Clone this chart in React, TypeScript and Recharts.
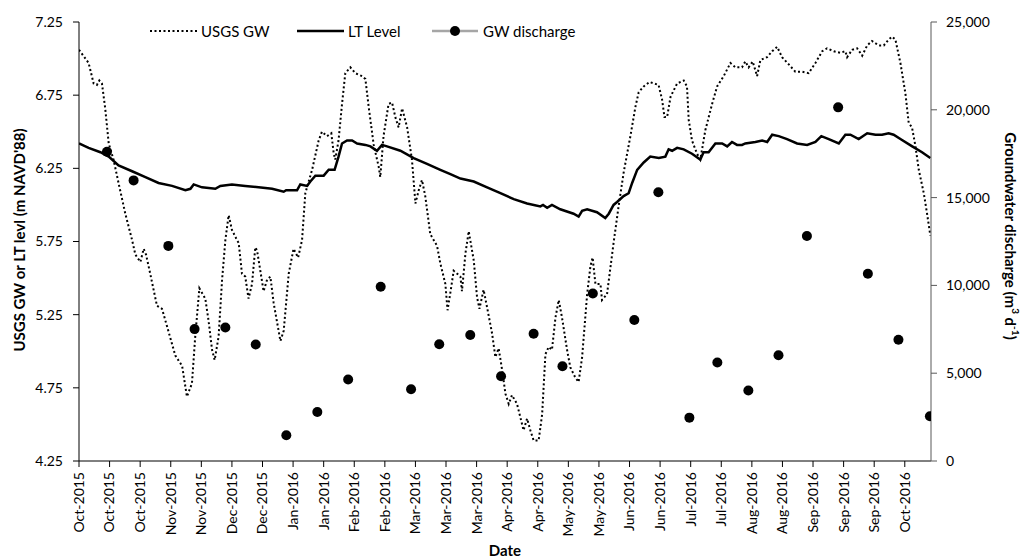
import { ComposedChart, Line, Scatter, XAxis, YAxis } from 'recharts';

// days since 1 Oct 2015
const tickDays = [0, 14, 28, 42, 56, 70, 84, 98, 112, 126, 140, 154, 168, 182, 196, 210, 224, 238, 252, 266, 280, 294, 308, 322, 336, 350, 364, 378];
const tickLabels = [
  'Oct-2015', 'Oct-2015', 'Oct-2015', 'Nov-2015', 'Nov-2015', 'Dec-2015', 'Dec-2015',
  'Jan-2016', 'Jan-2016', 'Feb-2016', 'Feb-2016', 'Mar-2016', 'Mar-2016', 'Mar-2016',
  'Apr-2016', 'Apr-2016', 'May-2016', 'May-2016', 'Jun-2016', 'Jun-2016', 'Jul-2016',
  'Jul-2016', 'Aug-2016', 'Aug-2016', 'Sep-2016', 'Sep-2016', 'Sep-2016', 'Oct-2016',
];
const levelTicks = [4.25, 4.75, 5.25, 5.75, 6.25, 6.75, 7.25];
const flowTicks = [0, 5000, 10000, 15000, 20000, 25000];

// USGS groundwater level (m NAVD'88)
const gwDays = [
  0, 4.4, 6.7, 8.2, 9.3, 10.5, 12.0, 13.6, 15.8, 18.1,
  21.2, 24.3, 25.8, 28.1, 29.6, 30.7, 32.6, 35.7, 38.0, 40.3,
  44.1, 47.2, 49.4, 51.7, 53.2, 55.1, 57.8, 59.3, 60.9, 62.1,
  63.9, 65.5, 67.0, 68.5, 70.0, 72.3, 73.1, 74.6, 76.1, 77.6,
  79.2, 80.7, 81.5, 83.0, 84.5, 86.1, 87.6, 89.1, 92.2, 93.7,
  96.0, 98.2, 100.3, 102.1, 103.6, 106.7, 109.7, 111.2, 113.5, 115.5,
  116.6, 117.3, 118.8, 120.4, 121.9, 124.2, 126.5, 129.6, 131.1, 132.6,
  134.9, 137.2, 137.9, 139.4, 141.7, 143.3, 144.8, 146.3, 147.9, 150.2,
  152.4, 154.0, 155.5, 157.0, 158.5, 160.8, 163.9, 165.4, 167.7, 168.7,
  170.3, 171.5, 173.1, 174.6, 175.3, 176.9, 178.4, 180.7, 182.2, 183.3,
  185.2, 186.8, 189.1, 190.6, 192.1, 193.7, 195.2, 196.7, 198.2, 200.5,
  203.5, 205.1, 206.6, 208.1, 210.4, 212.0, 213.5, 215.0, 216.5, 218.1,
  219.6, 221.1, 223.4, 224.9, 227.2, 228.7, 230.3, 232.6, 234.1, 235.1,
  236.4, 238.7, 239.4, 241.7, 242.9, 244.7, 247.0, 249.3, 252.4, 254.7,
  256.2, 258.5, 261.2, 265.3, 266.9, 268.0, 269.2, 270.8, 273.8,
  276.8, 278.3, 279.1, 280.6, 282.9, 284.4, 286.7, 289.8, 292.1, 295.1,
  298.2, 300.5, 303.5, 305.0, 306.5, 308.4, 310.4, 311.9, 315.0, 317.3,
  319.6, 321.8, 324.9, 327.9, 331.0, 334.0, 337.1, 340.2, 342.4, 345.5,
  348.5, 350.8, 351.6, 353.9, 356.2, 358.5, 360.8, 363.0, 366.1, 368.4,
  370.6, 372.2, 373.7, 376.0, 378.3, 379.8, 381.3, 382.9, 384.4, 386.7, 388.2, 389.7,
];
const gwLevel = [
  7.06, 6.97, 6.83, 6.82, 6.85, 6.83, 6.66, 6.42, 6.31, 6.15,
  5.94, 5.76, 5.66, 5.61, 5.70, 5.66, 5.53, 5.31, 5.29, 5.17,
  4.97, 4.90, 4.69, 4.78, 5.10, 5.43, 5.36, 5.21, 5.01, 4.94,
  5.10, 5.49, 5.76, 5.93, 5.83, 5.76, 5.74, 5.53, 5.51, 5.36,
  5.46, 5.71, 5.69, 5.55, 5.41, 5.49, 5.51, 5.33, 5.07, 5.14,
  5.53, 5.70, 5.64, 5.76, 6.08, 6.24, 6.44, 6.50, 6.47, 6.49,
  6.35, 6.31, 6.44, 6.69, 6.90, 6.94, 6.90, 6.88, 6.86, 6.67,
  6.41, 6.26, 6.19, 6.47, 6.69, 6.70, 6.60, 6.53, 6.66, 6.53,
  6.31, 6.01, 6.10, 6.17, 6.06, 5.80, 5.72, 5.60, 5.46, 5.28,
  5.43, 5.55, 5.53, 5.51, 5.41, 5.67, 5.82, 5.62, 5.37, 5.29,
  5.42, 5.30, 5.12, 4.96, 5.02, 4.87, 4.71, 4.64, 4.70, 4.64,
  4.46, 4.54, 4.46, 4.39, 4.39, 4.57, 4.98, 5.03, 5.01, 5.23,
  5.35, 5.23, 5.01, 4.89, 4.82, 4.79, 4.96, 5.39, 5.58, 5.64,
  5.46, 5.46, 5.35, 5.39, 5.53, 5.74, 5.99, 6.22, 6.47, 6.67,
  6.77, 6.81, 6.84, 6.82, 6.72, 6.60, 6.60, 6.74, 6.83,
  6.85, 6.81, 6.58, 6.44, 6.35, 6.31, 6.51, 6.69, 6.81, 6.88,
  6.97, 6.94, 6.94, 6.98, 6.94, 6.98, 6.88, 6.99, 7.01, 7.05,
  7.08, 7.01, 6.96, 6.91, 6.91, 6.90, 6.97, 7.05, 7.07, 7.05,
  7.04, 7.05, 7.01, 7.06, 7.07, 7.02, 7.09, 7.12, 7.09, 7.09,
  7.13, 7.15, 7.13, 6.97, 6.76, 6.56, 6.53, 6.40, 6.24, 6.08, 5.94, 5.79,
];

// LT (lake/tide) level (m NAVD'88)
const ltDays = [
  0, 4.4, 9.8, 13.6, 18.1, 24.3, 30.4, 36.4, 42.6, 48.7,
  51.0, 52.5, 56.3, 62.4, 64.7, 70.0, 76.1, 82.2, 88.4, 93.7,
  94.8, 99.8, 101.3, 104.4, 105.9, 108.2, 112.0, 114.3, 117.0, 118.8,
  120.4, 122.7, 125.0, 127.3, 131.1, 133.4, 136.4, 138.7, 141.0, 147.1,
  153.2, 159.3, 165.4, 170.0, 174.6, 180.7, 186.8, 192.9, 199.0, 205.1,
  211.2, 212.4, 214.3, 216.5, 220.3, 226.4, 228.7, 230.3, 232.6, 237.1,
  240.9, 242.5, 244.7, 246.3, 249.3, 251.6, 253.2, 255.5, 258.5, 261.5,
  265.4, 268.4, 269.9, 271.5, 273.8, 276.8, 280.6, 284.4, 285.9, 288.2,
  291.3, 294.4, 296.7, 298.9, 301.2, 303.5, 305.0, 309.6, 312.7, 315.0,
  317.3, 320.3, 324.1, 328.7, 333.3, 337.1, 339.8, 343.2, 347.8, 350.8,
  353.1, 356.9, 360.8, 364.6, 367.6, 370.6, 372.9, 376.0, 381.4, 385.9, 389.7,
];
const ltLevel = [
  6.42, 6.39, 6.36, 6.33, 6.27, 6.23, 6.19, 6.15, 6.13, 6.10,
  6.11, 6.14, 6.12, 6.11, 6.13, 6.14, 6.13, 6.12, 6.11, 6.09,
  6.10, 6.10, 6.14, 6.13, 6.16, 6.20, 6.20, 6.24, 6.24, 6.33,
  6.42, 6.44, 6.44, 6.42, 6.41, 6.40, 6.37, 6.41, 6.40, 6.37,
  6.32, 6.28, 6.24, 6.21, 6.18, 6.16, 6.12, 6.08, 6.04, 6.01,
  5.99, 6.00, 5.98, 6.00, 5.97, 5.94, 5.92, 5.96, 5.97, 5.95,
  5.91, 5.94, 6.00, 6.02, 6.06, 6.08, 6.15, 6.24, 6.29, 6.33,
  6.32, 6.33, 6.38, 6.37, 6.39, 6.38, 6.35, 6.31, 6.36, 6.36,
  6.42, 6.42, 6.40, 6.43, 6.41, 6.41, 6.42, 6.43, 6.44, 6.43,
  6.48, 6.47, 6.45, 6.42, 6.41, 6.43, 6.47, 6.45, 6.42, 6.48,
  6.48, 6.45, 6.49, 6.48, 6.48, 6.49, 6.48, 6.45, 6.40, 6.36, 6.32,
];

// groundwater discharge (m3/d)
const qDays = [12.8, 25.0, 40.9, 52.9, 67.0, 80.9, 94.9, 109.1, 123.2, 138.1, 152.0, 164.9, 179.1, 193.2, 208.1, 221.3, 235.2, 254.2, 265.2, 279.4, 292.2, 306.4, 320.2, 333.2, 347.5, 361.1, 375.1, 389.5];
const qFlow = [17610, 15980, 12250, 7510, 7600, 6630, 1470, 2790, 4640, 9920, 4090, 6650, 7180, 4830, 7250, 5400, 9540, 8030, 15300, 2470, 5610, 4010, 6020, 12810, 20140, 10660, 6900, 2550];

const gwData = gwDays.map((day, i) => ({ day, gw: gwLevel[i] }));
const ltData = ltDays.map((day, i) => ({ day, lt: ltLevel[i] }));
const qData = qDays.map((day, i) => ({ day, q: qFlow[i] }));

const FONT = 'Lato, Carlito, Calibri, sans-serif';
const DOTS = '2 2.5';

function DateTick(props: any) {
  const { x, y, payload } = props;
  const label = tickLabels[tickDays.indexOf(payload.value)] ?? '';
  return (
    <g transform={`translate(${x},${y})`}>
      <text transform="rotate(-90)" textAnchor="end" dy="0.35em" fontSize={14} fontFamily={FONT} fill="#000">
        {label}
      </text>
    </g>
  );
}

function Overlay() {
  return (
    <svg width={1025} height={560} style={{ position: 'absolute', left: 0, top: 0, pointerEvents: 'none' }} fontFamily={FONT}>
      {/* legend */}
      <line x1={150} x2={197} y1={31} y2={31} stroke="#000" strokeWidth={2} strokeDasharray={DOTS} />
      <text x={201} y={31} dominantBaseline="central" fontSize={15} fill="#000">USGS GW</text>
      <line x1={297} x2={344} y1={31} y2={31} stroke="#000" strokeWidth={2.5} />
      <text x={348} y={31} dominantBaseline="central" fontSize={15} fill="#000">LT Level</text>
      <line x1={432} x2={478} y1={31} y2={31} stroke="#a6a6a6" strokeWidth={2.5} />
      <circle cx={455} cy={31} r={5} fill="#000" />
      <text x={483} y={31} dominantBaseline="central" fontSize={15} fill="#000">GW discharge</text>

      {/* axis titles */}
      <text x={19} y={240} transform="rotate(-90 19 240)" textAnchor="middle" dominantBaseline="central" fontSize={15} fontWeight="bold" fill="#000">
        USGS GW or LT levl (m NAVD'88)
      </text>
      <text x={1011} y={236} transform="rotate(90 1011 236)" textAnchor="middle" dominantBaseline="central" fontSize={15} fontWeight="bold" fill="#000">
        Groundwater discharge (m<tspan fontSize={10} dy={-5}>3</tspan><tspan dy={5}> d</tspan><tspan fontSize={10} dy={-5}>-1</tspan><tspan dy={5}>)</tspan>
      </text>
      <text x={505} y={550} textAnchor="middle" dominantBaseline="central" fontSize={15} fontWeight="bold" fill="#000">Date</text>
    </svg>
  );
}

export default function App() {
  return (
    <div style={{ position: 'absolute', left: 0, top: 0, width: 1025, height: 560, background: '#fff' }}>
      <ComposedChart width={1025} height={560} margin={{ top: 22, right: 0, bottom: 0, left: 0 }}>
        <XAxis
          dataKey="day"
          type="number"
          domain={[0, 390]}
          ticks={tickDays}
          interval={0}
          height={99}
          tickSize={6}
          tickMargin={5}
          tick={<DateTick />}
          stroke="#000"
          allowDataOverflow
        />
        <YAxis
          yAxisId="left"
          domain={[4.25, 7.25]}
          ticks={levelTicks}
          interval={0}
          width={79}
          tickSize={6}
          tickMargin={10}
          tickFormatter={(v: number) => v.toFixed(2)}
          tick={{ fill: '#000', fontSize: 14, fontFamily: FONT }}
          stroke="#000"
          allowDataOverflow
        />
        <YAxis
          yAxisId="right"
          orientation="right"
          domain={[0, 25000]}
          ticks={flowTicks}
          interval={0}
          width={94}
          tickSize={6}
          tickMargin={9}
          tickFormatter={(v: number) => v.toLocaleString('en-US')}
          tick={{ fill: '#000', fontSize: 14, fontFamily: FONT }}
          stroke="#595959"
          allowDataOverflow
        />
        <Line
          yAxisId="left"
          data={gwData}
          dataKey="gw"
          type="linear"
          stroke="#000"
          strokeWidth={2}
          strokeDasharray={DOTS}
          dot={false}
          activeDot={false}
          isAnimationActive={false}
        />
        <Line
          yAxisId="left"
          data={ltData}
          dataKey="lt"
          type="linear"
          stroke="#000"
          strokeWidth={2.5}
          dot={false}
          activeDot={false}
          isAnimationActive={false}
        />
        <Scatter
          yAxisId="right"
          data={qData}
          dataKey="q"
          fill="#000"
          shape={(p: any) => <circle cx={p.cx} cy={p.cy} r={5} fill="#000" />}
          isAnimationActive={false}
        />
      </ComposedChart>
      <Overlay />
    </div>
  );
}
